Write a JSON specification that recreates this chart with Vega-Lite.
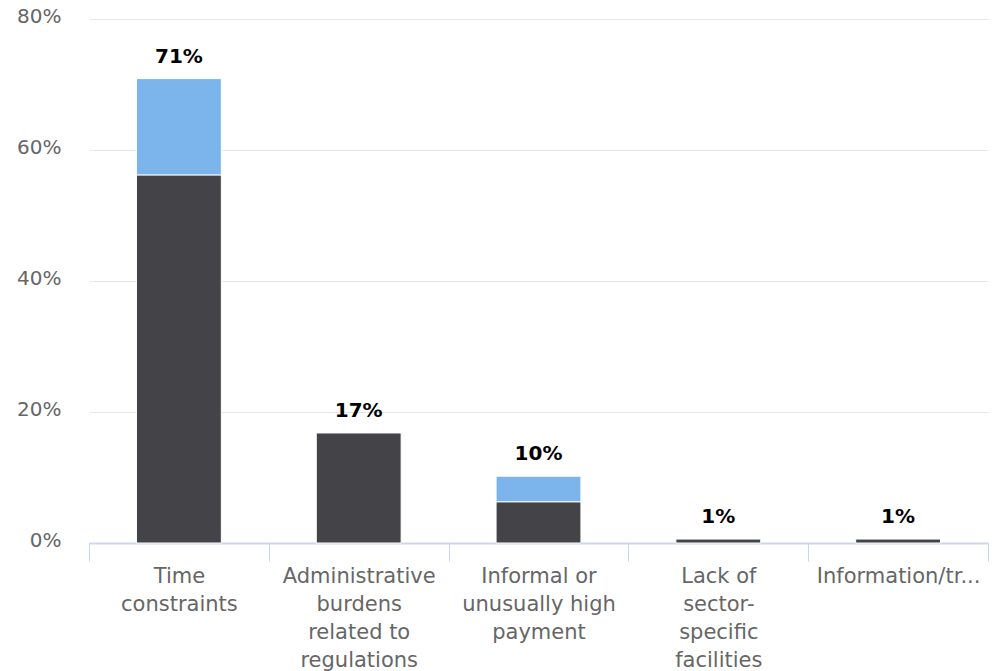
{
  "$schema": "https://vega.github.io/schema/vega-lite/v6.json",
  "width": 899,
  "height": 524,
  "autosize": {"type": "none"},
  "padding": {"left": 89, "top": 19, "right": 10, "bottom": 128},
  "background": "#ffffff",
  "config": {"view": {"stroke": null}, "font": "DejaVu Sans"},
  "data": {
    "values": [
      {"category": "Time constraints", "series": "Series A", "value": 0.562},
      {"category": "Time constraints", "series": "Series B", "value": 0.147},
      {"category": "Administrative burdens related to regulations", "series": "Series A", "value": 0.168},
      {"category": "Informal or unusually high payment", "series": "Series A", "value": 0.063},
      {"category": "Informal or unusually high payment", "series": "Series B", "value": 0.039},
      {"category": "Lack of sector-specific facilities", "series": "Series A", "value": 0.006},
      {"category": "Information/transparency", "series": "Series A", "value": 0.006}
    ]
  },
  "encoding": {
    "x": {
      "field": "category",
      "type": "nominal",
      "sort": null,
      "scale": {"paddingInner": 0, "paddingOuter": 0},
      "axis": {
        "title": null,
        "labelAngle": 0,
        "labelFontSize": 21,
        "labelColor": "#666666",
        "labelLineHeight": 28,
        "labelBaseline": "top",
        "labelPadding": 4,
        "labelLimit": 240,
        "labelOverlap": false,
        "tickBand": "extent",
        "tickSize": 18,
        "tickColor": "#ccd6eb",
        "domainColor": "#ccd6eb",
        "domainWidth": 2,
        "labelExpr": "datum.value == 'Time constraints' ? ['Time', 'constraints'] : datum.value == 'Administrative burdens related to regulations' ? ['Administrative', 'burdens', 'related to', 'regulations'] : datum.value == 'Informal or unusually high payment' ? ['Informal or', 'unusually high', 'payment'] : datum.value == 'Lack of sector-specific facilities' ? ['Lack of', 'sector-', 'specific', 'facilities'] : datum.value == 'Information/transparency' ? 'Information/tr...' : ''"
      }
    }
  },
  "layer": [
    {
      "mark": {"type": "bar", "stroke": "#ffffff", "strokeWidth": 1, "width": {"band": 0.472}},
      "encoding": {
        "y": {
          "field": "value",
          "type": "quantitative",
          "stack": "zero",
          "scale": {"domain": [0, 0.8], "nice": false},
          "axis": {
            "title": null,
            "values": [0, 0.2, 0.4, 0.6, 0.8],
            "format": ".0%",
            "domain": false,
            "ticks": false,
            "gridColor": "#e6e6e6",
            "labelColor": "#666666",
            "labelFontSize": 20,
            "labelPadding": 28,
            "labelOffset": -3
          }
        },
        "color": {
          "field": "series",
          "type": "nominal",
          "scale": {"domain": ["Series A", "Series B"], "range": ["#434348", "#7cb5ec"]},
          "legend": null
        },
        "order": {"field": "series", "sort": "ascending"}
      }
    },
    {
      "mark": {"type": "text", "fontWeight": "bold", "fontSize": 20, "baseline": "middle", "dy": -22, "color": "#000000"},
      "encoding": {
        "y": {"aggregate": "sum", "field": "value", "type": "quantitative"},
        "text": {"aggregate": "sum", "field": "value", "type": "quantitative", "format": ".0%"}
      }
    }
  ]
}
